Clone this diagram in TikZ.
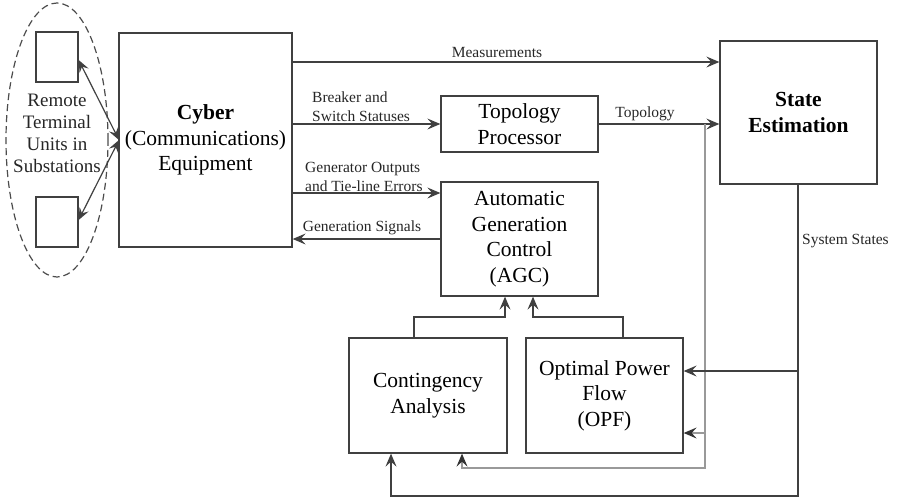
\documentclass[tikz,border=0pt]{standalone}
\usepackage{fontspec}
\setmainfont{Liberation Serif}
\newfontfamily\diagfont{Liberation Serif}
\usetikzlibrary{arrows.meta,shapes.geometric}

\tikzset{
  every node/.style={font=\diagfont},
  box/.style={draw=black!75, line width=1.3pt, rectangle, align=center,
    inner sep=0pt, font=\diagfont\fontsize{21.5}{25.5}\selectfont},
  lbl/.style={font=\diagfont\fontsize{15.5}{19.5}\selectfont, inner sep=0pt, text=black!85},
  wire/.style={draw=black!75, line width=1.2pt},
  tip/.style={-{Stealth[length=13pt,width=11pt,inset=5pt]}},
  arr/.style={wire, tip},
  darr/.style={wire, {Stealth[length=12pt,width=10pt,inset=4.5pt]}-{Stealth[length=12pt,width=10pt,inset=4.5pt]}},
  garr/.style={draw=black!40, line width=1.2pt,
    -{Stealth[length=13pt,width=11pt,inset=5pt,color=black!80]}},
}

\begin{document}
\begin{tikzpicture}[x=1pt,y=-1pt]
\useasboundingbox (0,0) rectangle (898,501);

% remote terminal units
\node[draw=black!70, line width=1.2pt, dash pattern=on 7pt off 4pt, ellipse,
  minimum width=102pt, minimum height=274pt, inner sep=0pt] (rtus) at (57,140) {};
\node[draw=black!75, line width=1.3pt, minimum width=42pt, minimum height=50pt, inner sep=0pt] (rtua) at (57,57) {};
\node[draw=black!75, line width=1.3pt, minimum width=42pt, minimum height=50pt, inner sep=0pt] (rtub) at (57,222) {};
\node[align=center, inner sep=0pt, font=\diagfont\fontsize{19}{22}\selectfont, text=black!85] (rtutxt) at (57,133)
  {Remote\\Terminal\\Units in\\Substations};

% main blocks
\node[box, minimum width=173pt, minimum height=214pt] (cyber) at (205.5,140)
  {\textbf{Cyber}\\(Communications)\\Equipment};
\node[box, minimum width=157pt, minimum height=143pt] (se) at (798.5,112.5)
  {\textbf{State}\\\textbf{Estimation}};
\node[box, minimum width=157pt, minimum height=56pt] (tp) at (519.5,124)
  {Topology\\Processor};
\node[box, minimum width=157pt, minimum height=114pt] (agc) at (519.5,239)
  {Automatic\\Generation\\Control\\(AGC)};
\node[box, minimum width=158pt, minimum height=115pt] (ca) at (428,395.5)
  {Contingency\\Analysis};
\node[box, minimum width=157pt, minimum height=115pt] (opf) at (604.5,395.5)
  {Optimal Power\\Flow\\(OPF)};

% links between the cyber equipment and the RTUs
\coordinate (cyl) at (119,140);
\draw[darr] (cyl) -- (rtua.east |- 0,60);
\draw[darr] (cyl) -- (rtub.east |- 0,220);

% data flows from the cyber equipment
\draw[arr] (cyber.east |- 0,62) -- (se.west |- 0,62);
\draw[arr] (cyber.east |- tp.west) -- (tp.west);
\draw[arr] (tp.east) -- (se.west |- tp.east);
\draw[arr] (cyber.east |- 0,193) -- (agc.west |- 0,193);
\draw[arr] (agc.west |- 0,239) -- (cyber.east |- 0,239);

% labels on the flows
\node[lbl] (lmeas) at (497,52) {Measurements};
\node[lbl, align=left, anchor=west] (lbrk) at (312,106.5) {Breaker and\\Switch Statuses};
\node[lbl] (ltopo) at (645,114) {Topology};
\node[lbl, align=left, anchor=west] (lgen) at (305,177) {Generator Outputs\\and Tie-line Errors};
\node[lbl] (lsig) at (362,228) {Generation Signals};
\node[lbl, anchor=west] (lsys) at (802,241) {System States};

% topology feed to the analysis blocks
\coordinate (tj) at (705,124);
\draw[garr] (tj) -- (705,433) -- (opf.east |- 0,433);
\draw[garr] (705,433) -- (705,468) -- (462,468) -- (ca.south -| 462,0);

% system states feed
\draw[arr] (se.south -| 798,0) -- (798,496) -- (391,496) -- (ca.south -| 391,0);
\draw[arr] (798,371) -- (opf.east |- 0,371);

% analysis results back to AGC
\draw[arr] (ca.north -| 414,0) -- (414,317) -- (505,317) -- (agc.south -| 505,0);
\draw[arr] (opf.north -| 623,0) -- (623,317) -- (533,317) -- (agc.south -| 533,0);
\end{tikzpicture}
\end{document}
